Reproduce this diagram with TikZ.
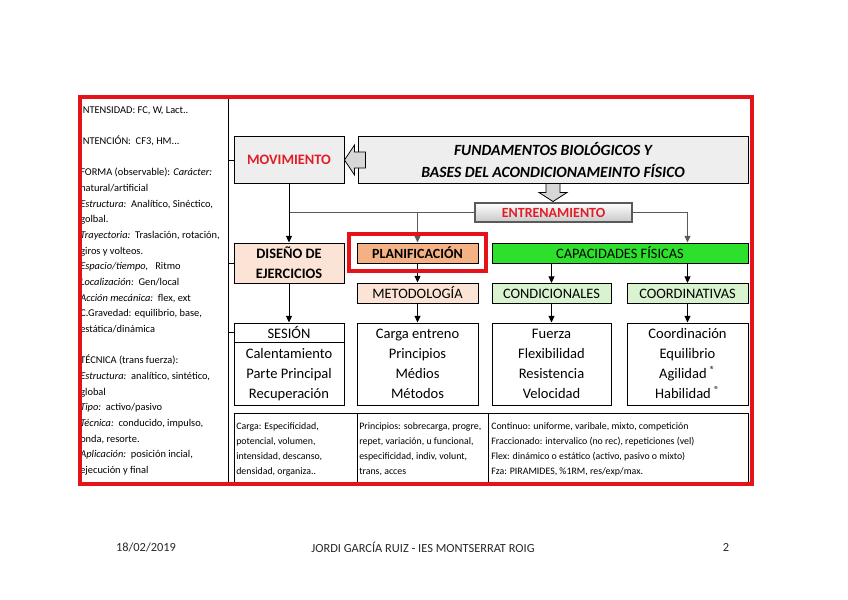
\documentclass[tikz,border=0pt]{standalone}
\usepackage{fontspec}
\setmainfont{Carlito}
\usetikzlibrary{arrows.meta}

\definecolor{boxgrey}{RGB}{238,238,238}
\definecolor{arrowgrey}{RGB}{215,215,215}
\definecolor{peach}{RGB}{251,228,213}
\definecolor{planorange}{RGB}{244,177,131}
\definecolor{capgreen}{RGB}{44,224,44}
\definecolor{lightgreen}{RGB}{217,242,208}
\definecolor{framered}{RGB}{230,18,26}
\definecolor{titlered}{RGB}{225,30,40}
\definecolor{linegrey}{RGB}{90,90,90}
\definecolor{footgrey}{RGB}{40,40,40}

\begin{document}
\begin{tikzpicture}[x=0.75pt, y=-0.75pt,
    box/.style={rectangle, draw, line width=0.75pt, inner sep=1pt, align=center, font=\fontsize{10.8}{12}\selectfont},
    titlebox/.style={box, fill=boxgrey, text=titlered, font=\bfseries\fontsize{10.8}{12}\selectfont},
    listbox/.style={box, minimum height=61.5pt, font=\fontsize{10.9}{15}\selectfont},
    cell/.style={rectangle, draw, line width=0.75pt, anchor=north west, minimum height=53.25pt, inner sep=0pt},
    hollow/.style={draw, line width=0.6pt, fill=arrowgrey},
    arrow/.style={-{Triangle[length=5pt,width=4.5pt]}, line width=0.75pt},
    link/.style={line width=0.6pt, draw=linegrey},
    note/.style={anchor=north west, inner sep=0pt, align=left},
    footer/.style={font=\fontsize{9.3}{11}\selectfont, text=footgrey}
]
\useasboundingbox (0,0) rectangle (848,599);

% left column
\coordinate (sep) at (228,97);
\node[note, font=\fontsize{7.8}{11.75}\selectfont] (notas) at (80,106) {%
INTENSIDAD: FC, W, Lact..\\[11.75pt]
INTENCIÓN:\ \ CF3, HM...\\[11.75pt]
FORMA (observable): \textit{Carácter:}\\
natural/artificial\\
\textit{Estructura:}\ \ Analítico, Sinéctico,\\
golbal.\\
\textit{Trayectoria:}\ \ Traslación, rotación,\\
giros y volteos.\\
\textit{Espacio/tiempo,}\ \ \ Ritmo\\
\textit{Localización:}\ \ Gen/local\\
\textit{Acción mecánica:}\ \ flex, ext\\
C.Gravedad: equilibrio, base,\\
estática/dinámica\\[11.75pt]
TÉCNICA (trans fuerza):\\
\textit{Estructura:}\ \ analítico, sintético,\\
global\\
\textit{Tipo:}\ \ activo/pasivo\\
\textit{Técnica:}\ \ conducido, impulso,\\
onda, resorte.\\
\textit{Aplicación:}\ \ posición incial,\\
ejecución y final};

% top row
\node[titlebox, minimum width=82.5pt, minimum height=34.5pt] (movim) at (289,160) {MOVIMIENTO};
\node[box, fill=boxgrey, minimum width=292.5pt, minimum height=34.5pt, font=\bfseries\itshape\fontsize{11.7}{17}\selectfont] (fund) at (553,160) {FUNDAMENTOS BIOLÓGICOS Y\\BASES DEL ACONDICIONAMEINTO FÍSICO};
\node[titlebox, draw=linegrey, line width=1.2pt, top color=white, bottom color=black!22, minimum width=117.75pt, minimum height=14.25pt, font=\bfseries\fontsize{10.5}{12}\selectfont] (entrena) at (553.5,212.5) {ENTRENAMIENTO};

% second row
\node[box, fill=peach, minimum width=82.5pt, minimum height=30pt, font=\bfseries\fontsize{10.8}{15}\selectfont] (diseno) at (289,263) {DISEÑO DE\\EJERCICIOS};
\node[box, fill=planorange, minimum width=90.75pt, minimum height=15pt, font=\bfseries\fontsize{10.5}{11}\selectfont] (plan) at (417.5,253) {PLANIFICACIÓN};
\node[box, fill=peach, minimum width=90.75pt, minimum height=15pt] (metod) at (417.5,293) {METODOLOGÍA};
\node[box, fill=capgreen, minimum width=192pt, minimum height=15pt] (capac) at (620,253) {CAPACIDADES FÍSICAS};
\node[box, fill=lightgreen, minimum width=89.25pt, minimum height=15pt] (condic) at (551.5,293.5) {CONDICIONALES};
\node[box, fill=lightgreen, minimum width=90.75pt, minimum height=15pt] (coordin) at (687.5,293.5) {COORDINATIVAS};

% lists
\node[listbox, minimum width=82.5pt] (sesion) at (289,364) {SESIÓN\\Calentamiento\\Parte Principal\\Recuperación};
\node[listbox, minimum width=90.75pt] (carga) at (417.5,364) {Carga entreno\\Principios\\Médios\\Métodos};
\node[listbox, minimum width=89.25pt] (fuerza) at (551.5,364) {Fuerza\\Flexibilidad\\Resistencia\\Velocidad};
\node[listbox, minimum width=90.75pt] (coordlist) at (687.5,364) {Coordinación\\Equilibrio\\Agilidad \textsuperscript{®}\\Habilidad \textsuperscript{®}};
\draw[line width=0.75pt] ([yshift=-15pt]sesion.north west) -- ([yshift=-15pt]sesion.north east);

% bottom table
\node[cell, minimum width=92.25pt] (celdaA) at (234,413) {};
\node[cell, minimum width=98.25pt] (celdaB) at (357,413) {};
\node[cell, minimum width=195pt] (celdaC) at (488,413) {};
\begin{scope}[every node/.style={note, font=\fontsize{7.4}{11.4}\selectfont}]
  \node at ([shift={(2,9)}]celdaA.north west) {Carga: Especificidad,\\potencial, volumen,\\intensidad, descanso,\\densidad, organiza..};
  \node at ([shift={(2,9)}]celdaB.north west) {Principios: sobrecarga, progre,\\repet, variación, u funcional,\\especificidad, indiv, volunt,\\trans, acces};
  \node at ([shift={(3,9)}]celdaC.north west) {Continuo: uniforme, varibale, mixto, competición\\Fraccionado: intervalico (no rec), repeticiones (vel)\\Flex: dinámico o estático (activo, pasivo o mixto)\\Fza: PIRAMIDES, \%1RM, res/exp/max.};
\end{scope}

% connectors
\draw[line width=0.75pt] (movim.west) -- (movim.west -| sep);
\draw[line width=0.75pt] (diseno.west) -- (diseno.west -| sep);
\draw[line width=0.75pt] ([yshift=-7.5pt]sesion.north west) -- ([yshift=-7.5pt]sesion.north west -| sep);
\draw[hollow] (movim.east) -- ++(10,-15) -- ++(0,7) -- ++(11,0) -- ++(0,16) -- ++(-11,0) -- ++(0,7) -- cycle;
\draw[hollow] ([xshift=-5.25pt]fund.south) -- ++(0,9) -- ++(-7,0) -- ++(14,9) -- ++(14,-9) -- ++(-7,0) -- ++(0,-9) -- cycle;
\draw[link] (entrena.west) -- (entrena.west -| movim.south);
\draw[link, arrow] (entrena.west -| plan.north) -- (plan.north);
\draw[link, arrow] (entrena.east) -| (capac.north -| coordin.north);
\draw[arrow] (movim) -- (diseno);
\draw[arrow] (diseno) -- (sesion);
\draw[arrow] (plan) -- (metod);
\draw[arrow] (metod) -- (carga);
\draw[arrow] (capac.south -| condic.north) -- (condic.north);
\draw[arrow] (capac.south -| coordin.north) -- (coordin.north);
\draw[arrow] (condic) -- (fuerza);
\draw[arrow] (coordin) -- (coordlist);

% frames
\node[draw=framered, line width=3pt, minimum width=102.75pt, minimum height=27.75pt, inner sep=0pt] (planframe) at (417.5,252.5) {};
\draw[line width=0.75pt] (sep) -- (sep |- 0,484);
\draw[framered, line width=3pt] (80,97) rectangle (752,484);

% footer
\node[footer] (fecha) at (146,547) {18/02/2019};
\node[footer] (autor) at (423,547) {JORDI GARCÍA RUIZ - IES MONTSERRAT ROIG};
\node[footer] (pagina) at (726,547) {2};
\end{tikzpicture}
\end{document}
